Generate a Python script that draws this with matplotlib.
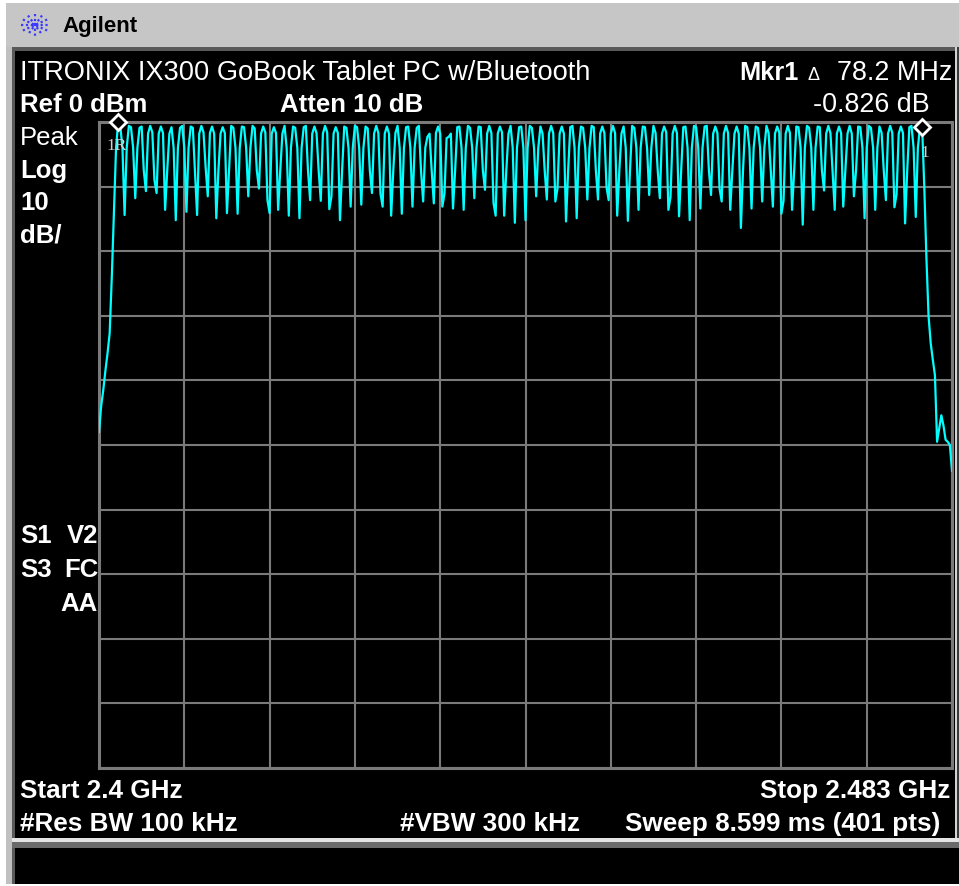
"""
Agilent spectrum analyzer screen: ITRONIX IX300 GoBook Bluetooth sweep.
"""
import numpy as np
import matplotlib
matplotlib.use("Agg")
from matplotlib import pyplot as plt
from matplotlib.patches import Rectangle

plt.rcParams['font.family'] = ['Liberation Sans', 'DejaVu Sans']

# sweep settings
start_ghz = 2.4
stop_ghz = 2.483
ref_dbm = 0
db_per_div = 10
n_div = 10

# trace, 401 points, dBm
trace_dbm = [
    -48.0, -44.0, -41.5, -38.5, -35.8, -32.7, -24.0, -14.0, -4.0, 0.0,
    -0.7, -4.0, -14.4, -4.0, -0.6, -0.8, -4.0, -11.8, -4.0, -0.9,
    -0.7, -7.5, -10.7, -1.8, -0.6, -1.6, -9.0, -11.0, -1.8, -0.7,
    -1.7, -13.6, -7.5, -1.8, -0.8, -4.0, -15.2, -4.0, -0.9, -0.6,
    -4.0, -13.9, -4.0, -0.7, -0.9, -7.5, -14.4, -1.8, -0.6, -1.6,
    -7.0, -11.5, -1.7, -0.7, -1.8, -14.9, -7.5, -1.8, -0.8, -1.7,
    -14.1, -7.5, -0.6, -0.9, -4.0, -14.2, -4.0, -0.7, -0.8, -4.0,
    -11.5, -4.0, -0.6, -1.0, -7.5, -10.3, -1.8, -0.7, -1.6, -12.1,
    -14.1, -1.8, -0.8, -1.7, -13.6, -7.5, -1.8, -0.6, -4.0, -14.5,
    -4.0, -0.7, -0.9, -4.0, -14.9, -4.0, -0.8, -0.6, -7.5, -12.1,
    -1.8, -0.7, -1.7, -7.5, -12.2, -1.8, -0.6, -1.6, -13.5, -11.5,
    -1.8, -0.8, -1.7, -15.2, -7.5, -0.7, -0.9, -4.0, -13.1, -4.0,
    -0.6, -0.8, -4.0, -12.8, -4.0, -0.7, -1.0, -7.5, -11.0, -1.8,
    -0.6, -1.7, -11.1, -13.1, -1.8, -0.7, -1.8, -14.5, -7.5, -1.7,
    -0.6, -4.0, -14.2, -4.0, -0.8, -0.7, -4.0, -13.1, -4.0, -0.9,
    -0.6, -7.5, -12.3, -4.0, -2.3, -1.8, -7.5, -12.6, -1.7, -0.7,
    -1.8, -13.1, -11.1, -2.5, -2.3, -1.8, -13.4, -7.5, -0.8, -0.7,
    -4.0, -13.6, -4.0, -0.6, -0.9, -4.0, -11.8, -4.0, -0.7, -0.8,
    -7.5, -10.5, -1.8, -0.6, -1.7, -12.5, -14.5, -1.8, -0.7, -1.6,
    -14.5, -7.5, -1.8, -0.6, -4.0, -15.6, -4.0, -0.8, -0.7, -4.0,
    -15.2, -4.0, -0.6, -0.9, -4.0, -11.5, -4.0, -0.7, -1.8, -7.5,
    -12.0, -1.8, -0.6, -1.7, -12.3, -10.3, -1.8, -0.7, -1.8, -15.4,
    -7.5, -0.8, -0.6, -4.0, -14.9, -4.0, -0.7, -0.9, -4.0, -12.0,
    -4.0, -0.6, -0.8, -7.5, -12.0, -1.8, -0.7, -1.7, -10.1, -12.1,
    -1.8, -0.6, -1.7, -14.5, -7.5, -1.8, -0.7, -4.0, -15.3, -7.5,
    -0.6, -0.9, -4.0, -13.6, -4.0, -0.7, -0.8, -4.0, -11.3, -4.0,
    -0.6, -1.7, -7.5, -11.8, -1.8, -0.7, -1.6, -13.6, -11.6, -1.8,
    -0.6, -1.7, -14.6, -7.5, -0.8, -0.7, -4.0, -15.2, -4.0, -0.6,
    -0.8, -4.0, -13.4, -4.0, -0.7, -0.6, -7.5, -11.3, -1.8, -0.7,
    -1.7, -10.3, -12.3, -1.8, -0.6, -1.7, -13.6, -7.5, -1.8, -0.7,
    -1.8, -16.4, -7.5, -0.6, -0.8, -4.0, -13.4, -4.0, -0.7, -0.9,
    -4.0, -12.3, -4.0, -0.6, -1.7, -7.5, -13.1, -1.8, -0.7, -1.6,
    -14.2, -12.2, -1.8, -0.6, -1.7, -13.6, -7.5, -0.7, -0.8, -4.0,
    -15.9, -4.0, -0.6, -0.9, -4.0, -13.6, -4.0, -0.7, -0.8, -7.5,
    -10.6, -1.8, -0.6, -1.7, -7.5, -13.6, -1.8, -0.7, -1.7, -13.1,
    -7.5, -1.8, -0.6, -1.8, -11.5, -7.5, -0.7, -0.8, -4.0, -14.9,
    -4.0, -0.6, -0.9, -4.0, -13.6, -4.0, -0.7, -1.7, -7.5, -12.1,
    -1.8, -0.6, -1.7, -13.2, -11.2, -1.8, -0.7, -1.7, -15.7, -7.5,
    -0.8, -0.6, -4.0, -14.7, -4.0, -0.7, -0.8, -10.0, -21.0, -30.0,
    -34.2, -36.8, -39.2, -49.5, -47.5, -45.4, -47.0, -49.2, -49.5, -50.0,
    -54.0,
]

marker_ref_idx = 9      # "1R"
marker_idx = 386        # "1"

W, H = 959, 886
fig = plt.figure(figsize=(W / 100, H / 100), dpi=100, facecolor='white')

# background / bezel, pixel coordinates
bg = fig.add_axes([0, 0, 1, 1])
bg.set_xlim(0, W)
bg.set_ylim(H, 0)
bg.axis('off')


def box(x0, y0, x1, y1, color):
    bg.add_patch(Rectangle((x0, y0), x1 - x0, y1 - y0,
                           facecolor=color, edgecolor='none'))


box(6, 3, W, 47, '#c6c6c6')
box(6, 47, 12, 884, '#c0c0c0')
box(12, 47, W, 51, '#5a5a5a')
box(12, 47, 15, 838, '#5a5a5a')
box(15, 51, 955, 838, 'black')
box(955, 47, 957, 838, '#d4d4d4')
box(957, 47, W, 838, '#3a3a3a')
box(12, 838, W, 842, '#e4e4e4')
box(12, 842, W, 848, '#6a6a6a')
box(12, 848, 15, 884, '#5a5a5a')
box(15, 848, W, 884, 'black')

# agilent spark logo
for ang in np.deg2rad([0, 30, 60, 90, 120, 150]):
    dx, dy = 14 * np.cos(ang), 11 * np.sin(ang)
    bg.plot([35 - dx, 35 + dx], [25 - dy, 25 + dy], color='#3a3aff',
            lw=1.6, ls=(0, (1, 1.2)))
bg.text(62, 32, 'Agilent', fontsize=16, fontweight='bold',
        color='black', va='baseline')

# trace graticule
ax = fig.add_axes([99 / W, 1 - 768 / H, 853 / W, 646 / H])
ax.set_zorder(1)
ax.set_facecolor('black')
ax.set_xlim(start_ghz, stop_ghz)
ax.set_ylim(ref_dbm - n_div * db_per_div, ref_dbm)
ax.set_xticks(np.linspace(start_ghz, stop_ghz, n_div + 1))
ax.set_yticks(np.linspace(ref_dbm - n_div * db_per_div, ref_dbm, n_div + 1))
ax.grid(True, color='#7a7a7a', lw=1.5)
ax.tick_params(length=0, labelbottom=False, labelleft=False)
for sp in ax.spines.values():
    sp.set_color('#7a7a7a')
    sp.set_linewidth(2.2)

freq = np.linspace(start_ghz, stop_ghz, len(trace_dbm))
ax.plot(freq, trace_dbm, color='#00ffff', lw=1.6, zorder=3)

for idx in (marker_ref_idx, marker_idx):
    ax.plot(freq[idx], trace_dbm[idx], marker='D', ms=8.5, mfc='black',
            mec='white', mew=2, clip_on=False, zorder=5)

# annotation layer
txt = fig.add_axes([0, 0, 1, 1])
txt.set_zorder(2)
txt.set_xlim(0, W)
txt.set_ylim(H, 0)
txt.axis('off')
txt.patch.set_alpha(0)


def put(x, y, s, size=18.8, bold=True, ha='left'):
    txt.text(x, y, s, fontsize=size, color='white', ha=ha, va='baseline',
             fontweight='bold' if bold else 'normal')


put(20, 80, 'ITRONIX IX300 GoBook Tablet PC w/Bluetooth', size=19.6,
    bold=False)
put(739, 80, 'Mkr1', size=18.3)
put(814, 80, '\u0394', size=13, bold=False, ha='center')
put(952, 80, '78.2 MHz', size=19.4, bold=False, ha='right')

put(20, 112, 'Ref 0 dBm', size=18.5)
put(280, 112, 'Atten 10 dB', size=18.5)
put(930, 112, '-0.826 dB', size=19.4, bold=False, ha='right')

put(20, 145, 'Peak', size=18.5, bold=False)
put(20, 178, 'Log', size=18.5)
put(20, 210, '10', size=18.5)
put(20, 242, 'dB/', size=18.5)

put(20, 543, 'S1', size=18.5)
put(98, 543, 'V2', size=18.5, ha='right')
put(20, 577, 'S3', size=18.5)
put(98, 577, 'FC', size=18.5, ha='right')
put(98, 611, 'AA', size=18.5, ha='right')

# marker labels on the graticule
txt.text(106, 150, '1R', fontsize=12.5, color='#d0d0d0',
         family='Liberation Serif', va='baseline')
txt.text(920, 157, '1', fontsize=12.5, color='#d0d0d0',
         family='Liberation Serif', va='baseline')

put(20, 798, 'Start 2.4 GHz')
put(950, 798, 'Stop 2.483 GHz', ha='right')
put(20, 831, '#Res BW 100 kHz')
put(400, 831, '#VBW 300 kHz')
put(940, 831, 'Sweep 8.599 ms (401 pts)', ha='right')

fig.savefig('out.png', dpi=100, facecolor=fig.get_facecolor())
